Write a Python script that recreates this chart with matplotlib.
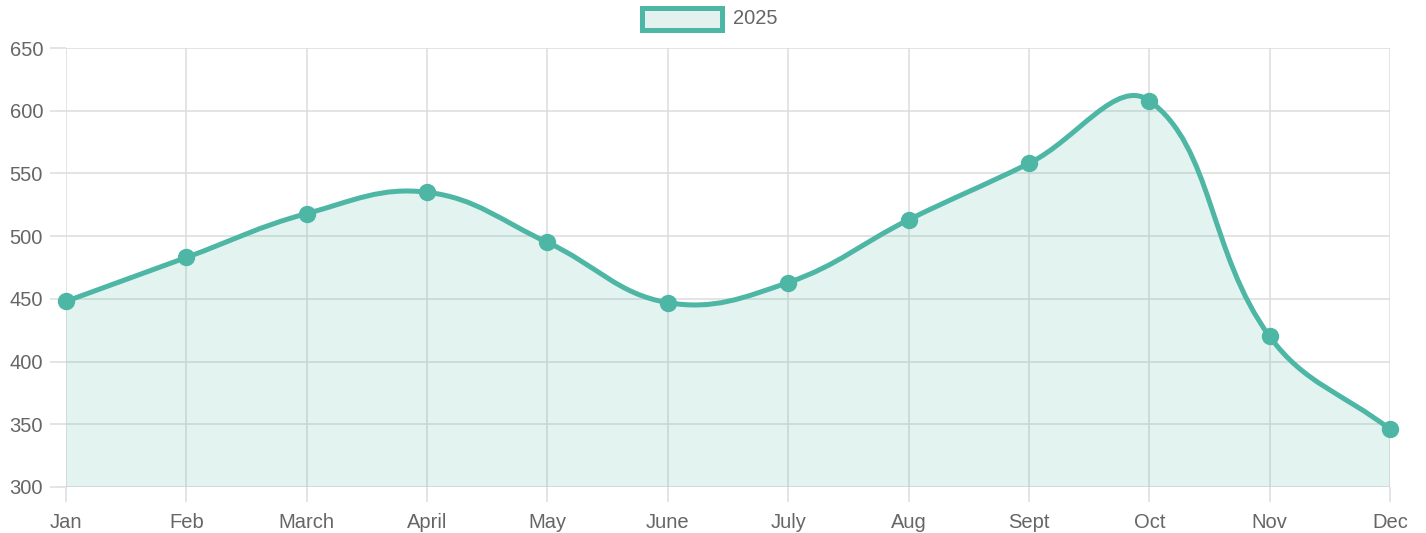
import numpy as np
import matplotlib
matplotlib.use("Agg")
import matplotlib.pyplot as plt
from matplotlib.path import Path
from matplotlib.patches import PathPatch, Rectangle

months = ["Jan", "Feb", "March", "April", "May", "June", "July", "Aug", "Sept", "Oct", "Nov", "Dec"]
values_2025 = [448, 483, 518, 535, 495, 447, 463, 513, 558, 608, 420, 346]
series_label = "2025"
y_ticks = [300, 350, 400, 450, 500, 550, 600, 650]

LINE = "#4DB6A4"
GRID = "#DCDCDC"
TXT = "#666666"
TENSION = 0.4

plt.rcParams['font.family'] = ['Liberation Sans', 'DejaVu Sans']

W, H = 1426, 533
fig = plt.figure(figsize=(W / 100, H / 100), dpi=100)
ax = fig.add_axes([66 / W, (H - 487) / H, (1390 - 66) / W, (487 - 48) / H])
ax.set_xlim(0, len(months) - 1)
ax.set_ylim(300, 650)
ax.set_xticks(range(len(months)))
ax.set_xticklabels(months)
ax.set_yticks(y_ticks)
for s in ax.spines.values():
    s.set_visible(False)
ax.grid(True, color=GRID, linewidth=1.1, zorder=0)
ax.set_axisbelow(True)
ax.tick_params(axis='both', colors=GRID, labelcolor=TXT, labelsize=14.5, width=1.1)
ax.tick_params(axis='y', length=11.5, pad=5)
ax.tick_params(axis='x', length=11, pad=7.5)

# Chart.js style spline computed in display space
xs = np.arange(len(values_2025), dtype=float)
ys = np.array(values_2025, dtype=float)
pts = ax.transData.transform(np.column_stack([xs, ys]))
n = len(pts)
cp_prev = np.zeros_like(pts)
cp_next = np.zeros_like(pts)
for i in range(n):
    cur = pts[i]
    prev = pts[i - 1] if i > 0 else cur
    nxt = pts[i + 1] if i < n - 1 else cur
    d01 = np.hypot(*(cur - prev))
    d12 = np.hypot(*(nxt - cur))
    tot = d01 + d12
    s01 = d01 / tot if tot else 0
    s12 = d12 / tot if tot else 0
    fa = TENSION * s01
    fb = TENSION * s12
    cp_prev[i] = cur - fa * (nxt - prev)
    cp_next[i] = cur + fb * (nxt - prev)
inv = ax.transData.inverted()
cp_prev_d = inv.transform(cp_prev)
cp_next_d = inv.transform(cp_next)
data_pts = np.column_stack([xs, ys])

verts = [tuple(data_pts[0])]
codes = [Path.MOVETO]
for i in range(n - 1):
    verts += [tuple(cp_next_d[i]), tuple(cp_prev_d[i + 1]), tuple(data_pts[i + 1])]
    codes += [Path.CURVE4] * 3
line_path = Path(verts, codes)
fill_verts = verts + [(xs[-1], 300), (xs[0], 300), verts[0]]
fill_codes = codes + [Path.LINETO, Path.LINETO, Path.CLOSEPOLY]
fill_path = Path(fill_verts, fill_codes)

ax.add_patch(PathPatch(fill_path, facecolor=LINE, alpha=0.16, edgecolor='none', zorder=2))
ax.add_patch(PathPatch(line_path, facecolor='none', edgecolor=LINE, linewidth=3.6, zorder=3, capstyle='round', joinstyle='round'))
ax.plot(xs, ys, 'o', color=LINE, markersize=11.5, zorder=4, clip_on=False)

# Legend
fig.patches.append(Rectangle((642 / W, (H - 30) / H), 80 / W, 22 / H, transform=fig.transFigure,
                             facecolor="#E3F2EF", edgecolor=LINE, linewidth=3.6))
fig.text(733 / W, (H - 19) / H, series_label, color=TXT, fontsize=14.5, va='center', ha='left')

fig.savefig("out.png", dpi=100)
